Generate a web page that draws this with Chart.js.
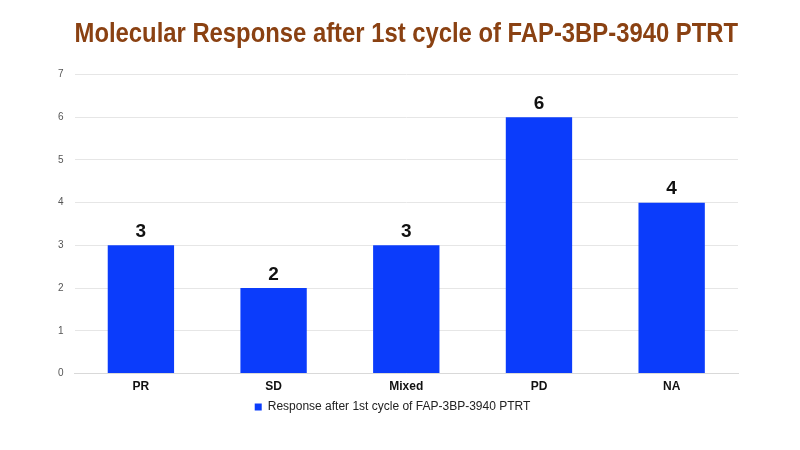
<!DOCTYPE html>
<html>
<head>
<meta charset="utf-8">
<script src="https://cdn.jsdelivr.net/npm/chart.js@4"></script>
<style>
  html, body { margin: 0; padding: 0; background: #fff; }
  #wrap { width: 800px; height: 450px; }
</style>
</head>
<body>
<div id="wrap"><canvas id="chart"></canvas></div>
<script>
// chart data
const categories = ["PR", "SD", "Mixed", "PD", "NA"];
const responseCounts = [3, 2, 3, 6, 4];
const seriesLabel = "Response after 1st cycle of FAP-3BP-3940 PTRT";
const yTicks = [0, 1, 2, 3, 4, 5, 6, 7];

// draws the number above every bar
const valueLabels = {
    id: 'valueLabels',
    afterDatasetsDraw(chart) {
        const ctx = chart.ctx;
        ctx.save();
        ctx.font = 'bold 19px "Liberation Sans", Arial, sans-serif';
        ctx.fillStyle = '#111';
        ctx.textAlign = 'center';
        ctx.textBaseline = 'bottom';
        chart.getDatasetMeta(0).data.forEach((bar, i) => {
            ctx.fillText(chart.data.datasets[0].data[i], bar.x, bar.y - 4);
        });
        ctx.restore();
    }
};

const ctx = document.getElementById('chart').getContext('2d');
new Chart(ctx, {
    type: 'bar',
    data: {
        labels: categories,
        datasets: [{
            label: seriesLabel,
            data: responseCounts,
            backgroundColor: '#0b3cfb',
            borderWidth: 0,
            categoryPercentage: 0.5,
            barPercentage: 1.0
        }]
    },
    options: {
        responsive: true,
        maintainAspectRatio: false,
        animation: false,
        layout: { padding: { left: 47, right: 62, top: 8, bottom: 27 } },
        plugins: {
            title: {
                display: true,
                fullSize: false,
                text: 'Molecular Response after 1st cycle of FAP-3BP-3940 PTRT',
                color: '#8a4112',
                font: { family: '"Liberation Sans Narrow", "Arial Narrow", sans-serif', size: 27, weight: 'bold' },
                padding: { top: 10, bottom: 24 }
            },
            legend: {
                position: 'bottom',
                labels: {
                    color: '#222',
                    font: { family: '"Liberation Sans", Arial, sans-serif', size: 12 },
                    boxWidth: 7,
                    boxHeight: 7,
                    padding: 1
                }
            },
            tooltip: { enabled: false }
        },
        scales: {
            x: {
                grid: { display: false, drawTicks: false },
                border: { color: '#d9d9d9' },
                ticks: {
                    color: '#111',
                    font: { family: '"Liberation Sans", Arial, sans-serif', size: 12, weight: 'bold' },
                    padding: 6
                }
            },
            y: {
                min: yTicks[0],
                max: yTicks[yTicks.length - 1],
                afterBuildTicks: axis => { axis.ticks = yTicks.map(v => ({ value: v })); },
                grid: { color: '#e6e6e6', drawTicks: false },
                border: { display: false },
                ticks: {
                    color: '#555',
                    font: { family: '"Liberation Sans", Arial, sans-serif', size: 10 },
                    padding: 11
                }
            }
        }
    },
    plugins: [valueLabels]
});
</script>
</body>
</html>
